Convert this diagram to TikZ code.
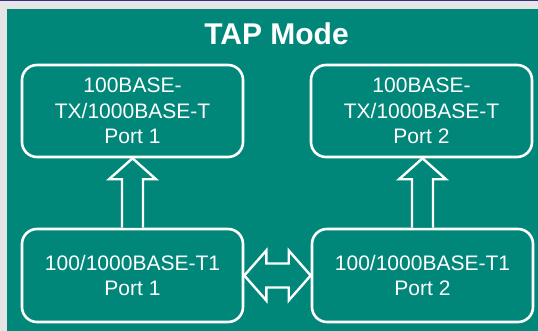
\documentclass[tikz,border=0pt]{standalone}
\usepackage{fontspec}
\setmainfont{Liberation Sans}
\usepackage{tikz}
\usetikzlibrary{calc, positioning}
\definecolor{tapteal}{RGB}{0,135,122}
\definecolor{tapgrey}{RGB}{229,229,229}
\definecolor{tapline}{RGB}{58,46,128}
\tikzstyle{port} = [draw=white, line width=2.6pt, rounded corners=15pt, fill=tapteal, text=white, minimum width=221pt, align=center, font=\fontsize{21}{25.5}\selectfont]
\tikzstyle{hollow} = [draw=white, fill=tapteal, line width=2.4pt, line join=miter]

\begin{document}
\begin{tikzpicture}[x=1pt, y=1pt]

   % Background and panel
   \useasboundingbox (0,0) rectangle (538,331);
   \fill[tapgrey] (0,0) rectangle (538,331);
   \fill[tapline] (0,329.5) rectangle (538,331);
   \fill[tapteal] (7,0) rectangle (538,322);

   % Title
   \node[anchor=base, text=white, font=\fontsize{30}{36}\selectfont\bfseries] (title) at (276.5,286) {TAP Mode};

   % Ports
   \node[port, minimum height=92pt] (top1) at (132.5,220) {100BASE-\\TX/1000BASE-T\\Port 1};
   \node[port, minimum height=92pt] (top2) at (421.5,220) {100BASE-\\TX/1000BASE-T\\Port 2};
   \node[port, minimum height=93pt] (bot1) at (132.5,55.5) {100/1000BASE-T1\\Port 1};
   \node[port, minimum height=93pt] (bot2) at (422.5,55.5) {100/1000BASE-T1\\Port 2};

   % Up arrows
   \draw[hollow] ($(bot1.north)+(-10.5,0)$) -- ($(top1.south)+(-10.5,-21)$) -- ($(top1.south)+(-23.5,-21)$) -- (top1.south)
      -- ($(top1.south)+(23.5,-21)$) -- ($(top1.south)+(10.5,-21)$) -- ($(bot1.north)+(10.5,0)$);
   \draw[hollow] ($(bot2.north)+(-10.5,0)$) -- ($(bot2.north|-top2.south)+(-10.5,-21)$) -- ($(bot2.north|-top2.south)+(-23.5,-21)$) -- (bot2.north|-top2.south)
      -- ($(bot2.north|-top2.south)+(23.5,-21)$) -- ($(bot2.north|-top2.south)+(10.5,-21)$) -- ($(bot2.north)+(10.5,0)$);

   % Double arrow between the T1 ports
   \draw[hollow] (bot1.east) -- ($(bot1.east)+(22,25)$) -- ($(bot1.east)+(22,12)$) -- ($(bot2.west)+(-22,12)$)
      -- ($(bot2.west)+(-22,25)$) -- (bot2.west) -- ($(bot2.west)+(-22,-25)$) -- ($(bot2.west)+(-22,-12)$)
      -- ($(bot1.east)+(22,-12)$) -- ($(bot1.east)+(22,-25)$) -- cycle;

\end{tikzpicture}
\end{document}
